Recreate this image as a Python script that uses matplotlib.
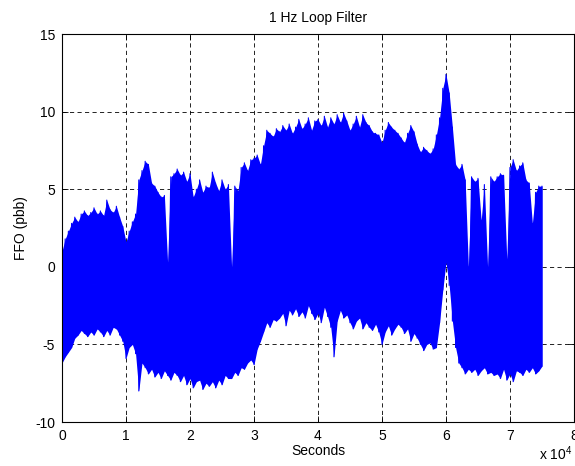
import matplotlib
matplotlib.use('Agg')
import matplotlib.pyplot as plt
import numpy as np

plt.rcParams['font.family'] = ['Liberation Sans', 'DejaVu Sans']
plt.rcParams['mathtext.fontset'] = 'custom'
plt.rcParams['mathtext.rm'] = 'Liberation Sans'

# sample times in thousands of seconds, one reading every 500 s
t_k = np.arange(0, 75.5, 0.5)

# upper and lower swing of the frequency offset (ppb) in each 500 s slot
ffo_hi = [1.0, 1.8, 2.3, 2.8, 3.2, 2.9, 3.4, 3.6, 3.3, 3.5,
          3.8, 3.4, 3.6, 3.3, 4.3, 3.7, 3.5, 3.9, 3.2, 2.6,
          1.6, 2.3, 2.9, 3.4, 5.6, 6.2, 6.8, 6.6, 5.4, 5.2,
          4.8, 4.5, 4.6, 0.3, 5.8, 6.0, 6.3, 5.9, 6.1, 5.5,
          6.0, 4.5, 5.0, 5.6, 4.8, 5.2, 5.1, 6.1, 5.4, 4.9,
          5.6, 5.0, 5.3, 0.0, 5.2, 4.9, 6.4, 6.7, 6.2, 6.9,
          7.0, 7.2, 6.6, 7.8, 8.8, 8.6, 8.4, 8.9, 8.7, 9.1,
          8.8, 9.2, 8.6, 9.0, 9.5, 8.9, 9.2, 9.6, 8.8, 9.4,
          9.5, 9.1, 9.7, 9.0, 9.6, 9.2, 9.8, 9.3, 9.9, 9.4,
          8.8, 9.2, 9.7, 9.0, 9.8, 9.3, 9.1, 8.7, 8.6, 8.5,
          8.0, 8.8, 9.3, 9.0, 8.8, 8.6, 8.3, 8.0, 8.6, 9.1,
          8.7, 7.9, 7.4, 7.7, 7.5, 7.3, 7.6, 8.5, 9.6, 11.5,
          12.4, 11.2, 9.0, 6.6, 6.3, 6.6, 5.6, 0.0, 5.8, 5.5,
          5.7, 3.0, 5.3, 0.0, 5.8, 5.5, 5.8, 6.0, 5.9, 0.5,
          6.4, 6.9, 6.2, 6.5, 6.7, 5.6, 5.4, 2.8, 4.8, 5.2,
          5.2]
ffo_lo = [-6.2, -5.8, -5.5, -5.2, -4.6, -4.4, -4.1, -4.3, -4.5, -4.2,
          -4.4, -4.0, -4.2, -4.5, -4.1, -4.4, -3.9, -4.0, -4.4, -4.8,
          -5.9, -5.2, -5.0, -5.6, -8.0, -6.2, -6.5, -6.9, -6.6, -7.1,
          -6.8, -7.2, -6.7, -7.0, -7.3, -6.8, -7.0, -7.4, -7.0, -7.6,
          -7.2, -7.8, -7.4, -7.3, -7.9, -7.5, -7.7, -7.4, -7.8, -7.3,
          -7.6, -7.0, -7.2, -7.2, -6.8, -7.0, -6.5, -6.6, -6.2, -6.0,
          -6.3, -5.3, -4.8, -4.2, -3.6, -3.9, -3.4, -3.5, -3.3, -3.0,
          -3.8, -2.8, -3.1, -2.7, -3.2, -2.9, -3.3, -2.5, -3.0, -3.4,
          -3.0, -3.6, -2.6, -3.2, -3.9, -5.8, -3.5, -2.8, -3.3, -3.1,
          -3.6, -4.0, -3.5, -3.3, -4.0, -3.6, -3.9, -4.1, -3.7, -4.2,
          -5.0, -4.2, -3.8, -4.4, -4.0, -3.7, -3.9, -4.3, -4.0, -4.8,
          -4.3, -4.6, -5.0, -5.4, -5.0, -4.9, -5.3, -5.2, -3.6, -1.5,
          0.3, -1.2, -3.5, -5.2, -6.2, -6.5, -6.9, -6.6, -6.8, -6.6,
          -7.0, -6.7, -6.5, -6.9, -6.8, -7.0, -6.9, -7.2, -6.6, -7.3,
          -6.9, -7.4, -6.7, -6.8, -7.0, -6.6, -6.8, -6.5, -6.9, -6.7,
          -6.4]

xticks = [0, 1, 2, 3, 4, 5, 6, 7, 8]
yticks = [-10, -5, 0, 5, 10, 15]

blue = (0, 0, 1)
secs = t_k * 1000.0

fig = plt.figure(figsize=(5.75, 4.66), dpi=100)
ax = fig.add_axes([0.1078, 0.0944, 0.8904, 0.8326])

# dense trace: band between the swings, edged by the swing itself
ax.fill_between(secs, ffo_lo, ffo_hi, color=blue, linewidth=0, zorder=2)
ax.plot(np.repeat(secs, 2), np.column_stack([ffo_hi, ffo_lo]).ravel(),
        color=blue, linewidth=0.8, zorder=2)

ax.set_xlim(0, 80000)
ax.set_ylim(-10, 15)
ax.set_xticks([v * 1e4 for v in xticks])
ax.set_xticklabels([str(v) for v in xticks])
ax.set_yticks(yticks)
ax.set_yticklabels([str(v) for v in yticks])

# grid sits under the trace
ax.set_axisbelow(True)
ax.grid(True, color='k', linestyle=(0, (5, 4)), linewidth=0.6)
ax.tick_params(direction='in', length=4, width=0.6, top=True, right=True,
               labelsize=10, pad=5, colors='k')
for sp in ax.spines.values():
    sp.set_linewidth(0.8)
    sp.set_zorder(3)

ax.set_title('1 Hz Loop Filter', fontsize=10, pad=9)
ax.set_xlabel('Seconds', fontsize=10, labelpad=1)
ax.set_ylabel('FFO (pbb)', fontsize=10, labelpad=5)
fig.text(0.937, 0.006, r'x 10$^4$', fontsize=10, ha='left', va='bottom')

fig.savefig('out.png', dpi=100)
